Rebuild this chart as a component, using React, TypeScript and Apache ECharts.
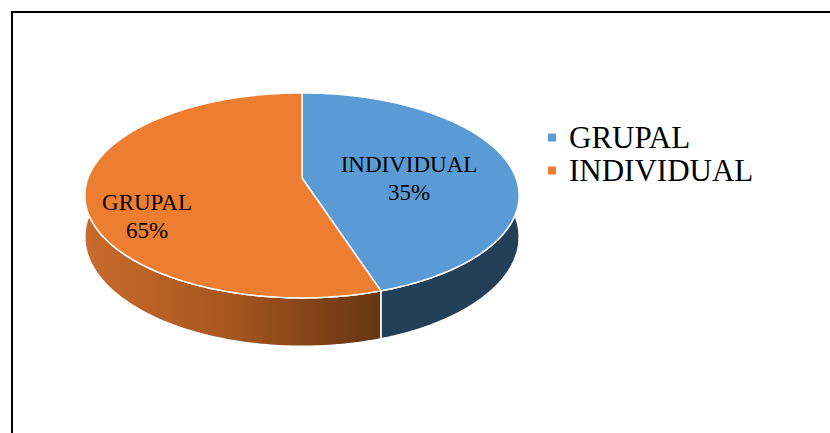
import React, { useEffect, useRef } from "react";
import * as echarts from "echarts";

// ---- data ----
const legendNames = ["GRUPAL", "INDIVIDUAL"];
// slice sizes as drawn (blue first, from 12 o'clock clockwise)
const sliceShares = [45, 55];
// label texts as printed on the slices
const sliceLabelNames = ["INDIVIDUAL", "GRUPAL"];
const sliceLabelPercents = ["35%", "65%"];

// ---- styles / layout ----
const topColors = ["#5B9BD5", "#ED7D31"];
const wallFills: any[] = [
  "#243F58",
  {
    type: "linear",
    x: 0,
    y: 0,
    x2: 1,
    y2: 0,
    colorStops: [
      { offset: 0, color: "#C96B2C" },
      { offset: 0.5, color: "#A5561F" },
      { offset: 1, color: "#663414" },
    ],
  },
];
const labelCenters = [
  [409, 178],
  [147, 216],
];

const SERIF = "'Liberation Serif', 'Times New Roman', serif";

const CX = 302;
const CY = 178;
const RA = 214;
const RB = 99.5;
const K = 0.17;
const DEPTH = 40.2;

function proj(theta: number, r = 1, bottom = false): number[] {
  const u = r * Math.sin(theta);
  const v = -r * Math.cos(theta);
  const w = 1 - K * v;
  return [CX + (RA * u) / w, CY + (RB * v + (bottom ? DEPTH : 0)) / w];
}

function arcPoints(a0: number, a1: number, bottom: boolean): number[][] {
  const pts: number[][] = [];
  const n = Math.max(2, Math.ceil(Math.abs(a1 - a0) / (Math.PI / 180)));
  for (let i = 0; i <= n; i++) {
    pts.push(proj(a0 + ((a1 - a0) * i) / n, 1, bottom));
  }
  return pts;
}

const total = sliceShares.reduce((a, b) => a + b, 0);
const starts: number[] = [];
{
  let acc = 0;
  for (const s of sliceShares) {
    starts.push((acc / total) * Math.PI * 2);
    acc += s;
  }
}

function makeRenderItem(i: number) {
  return (params: any, api: any) => {
    const a0 = starts[i];
    const a1 = a0 + (sliceShares[i] / total) * Math.PI * 2;
    const children: any[] = [];
    const lo = (80 * Math.PI) / 180;
    const hi = (280 * Math.PI) / 180;
    const w0 = Math.max(a0, lo);
    const w1 = Math.min(a1, hi);
    if (w1 > w0) {
      const pts = arcPoints(w0, w1, false).concat(arcPoints(w1, w0, true));
      children.push({
        type: "polygon",
        z2: 1,
        shape: { points: pts },
        style: { fill: wallFills[i], stroke: "#FFFFFF", lineWidth: 1.5 },
      });
    }
    const top = [proj(0, 0)].concat(arcPoints(a0, a1, false));
    children.push({
      type: "polygon",
      z2: 10,
      shape: { points: top },
      style: { fill: topColors[i], stroke: "#FFFFFF", lineWidth: 1.5 },
    });
    children.push({
      type: "text",
      z2: 20,
      style: {
        text: sliceLabelNames[i] + "\n" + sliceLabelPercents[i],
        x: labelCenters[i][0],
        y: labelCenters[i][1],
        textAlign: "center",
        textVerticalAlign: "middle",
        font: "23px " + SERIF,
        fontFamily: SERIF,
        fontSize: 23,
        lineHeight: 28,
        fill: "#000000",
      },
    });
    return { type: "group", children };
  };
}

export default function App() {
  const ref = useRef<HTMLDivElement>(null);
  useEffect(() => {
    if (!ref.current) return;
    const chart = echarts.init(ref.current, null, { renderer: "svg" });
    chart.setOption({
      animation: false,
      backgroundColor: "#FFFFFF",
      legend: {
        orient: "vertical",
        left: 548,
        top: 122,
        padding: 0,
        itemWidth: 8,
        itemHeight: 8,
        itemGap: 2,
        icon: "rect",
        selectedMode: false,
        data: legendNames,
        textStyle: {
          fontFamily: SERIF,
          fontSize: 31,
          color: "#000000",
          padding: [0, 0, 0, 8],
        },
      },
      graphic: [
        {
          type: "rect",
          shape: { x: 12, y: 12, width: 900, height: 500 },
          style: { fill: "none", stroke: "#000000", lineWidth: 2 },
          silent: true,
        },
      ],
      series: legendNames.map((name, i) => ({
        type: "custom",
        name,
        coordinateSystem: "none",
        itemStyle: { color: topColors[i] },
        data: [sliceShares[i]],
        renderItem: makeRenderItem(i),
      })),
    });
    return () => chart.dispose();
  }, []);
  return (
    <div
      ref={ref}
      style={{ position: "fixed", left: 0, top: 0, width: 830, height: 433 }}
    />
  );
}
